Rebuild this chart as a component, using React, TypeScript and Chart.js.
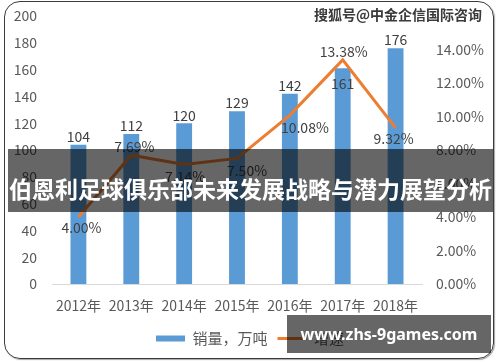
import React, { useEffect, useRef } from "react";
import { Chart, registerables } from "chart.js";

Chart.register(...registerables);

const FONT = "'Noto Sans CJK SC', 'Noto Sans', sans-serif";

const categories = ["2012年", "2013年", "2014年", "2015年", "2016年", "2017年", "2018年"];
const salesValues = [104, 112, 120, 129, 142, 161, 176];
const growthValues = [4.0, 7.69, 7.14, 7.5, 10.08, 13.38, 9.32];
const seriesNames = ["销量，万吨", "增速"];
const leftAxisMax = 200;
const leftAxisStep = 20;
const rightAxisMax = 16;
const rightAxisStep = 2;

const titleText = "伯恩利足球俱乐部未来发展战略与潜力展望分析";
const topWatermark = "搜狐号@中金企信国际咨询";
const bottomWatermark = "www.zhs-9games.com";

// label placement styling (not data)
const barLabelInside = [false, false, false, false, false, true, false];
const lineLabelOffsets: [number, number][] = [
  [3, 11],
  [3, -9],
  [1, 12],
  [10, 12],
  [15, 13],
  [1, -8],
  [-2, 11],
];

const BAR_COLOR = "#5B9BD5";
const LINE_COLOR = "#ED7D31";

const labelPlugin = {
  id: "valueLabels",
  afterDatasetsDraw(chart: any) {
    const ctx = chart.ctx;
    ctx.save();
    ctx.font = `14px ${FONT}`;
    ctx.fillStyle = "#404040";
    ctx.textAlign = "center";
    ctx.textBaseline = "middle";
    const barMeta = chart.getDatasetMeta(0);
    barMeta.data.forEach((el: any, i: number) => {
      const y = barLabelInside[i] ? el.y + 15 : el.y - 8;
      ctx.fillText(String(salesValues[i]), el.x, y);
    });
    const lineMeta = chart.getDatasetMeta(1);
    lineMeta.data.forEach((el: any, i: number) => {
      const [dx, dy] = lineLabelOffsets[i];
      ctx.fillText(growthValues[i].toFixed(2) + "%", el.x + dx, el.y + dy);
    });
    ctx.restore();
  },
};

export default function App() {
  const canvasRef = useRef<HTMLCanvasElement | null>(null);

  useEffect(() => {
    if (!canvasRef.current) return;
    const chart = new Chart(canvasRef.current, {
      type: "bar",
      data: {
        labels: categories,
        datasets: [
          {
            type: "bar",
            label: seriesNames[0],
            data: salesValues,
            backgroundColor: BAR_COLOR,
            borderWidth: 0,
            barPercentage: 0.3,
            categoryPercentage: 1,
            yAxisID: "y",
            order: 1,
          },
          {
            type: "line",
            label: seriesNames[1],
            data: growthValues,
            borderColor: LINE_COLOR,
            backgroundColor: LINE_COLOR,
            borderWidth: 3,
            pointRadius: 0,
            tension: 0,
            yAxisID: "y1",
            order: 0,
          } as any,
        ],
      },
      options: {
        responsive: false,
        animation: false,
        events: [],
        layout: { padding: { top: 16, bottom: 6, left: 0, right: 0 } },
        plugins: {
          tooltip: { enabled: false },
          legend: {
            position: "bottom",
            labels: {
              font: { size: 15, family: FONT },
              color: "#595959",
              usePointStyle: true,
              pointStyleWidth: 29,
              padding: 10,
              generateLabels: (chart: any) =>
                chart.data.datasets.map((ds: any, i: number) => ({
                  text: ds.label,
                  fillStyle: i === 0 ? BAR_COLOR : LINE_COLOR,
                  strokeStyle: i === 0 ? BAR_COLOR : LINE_COLOR,
                  lineWidth: i === 0 ? 6 : 3,
                  pointStyle: "line",
                  hidden: false,
                  datasetIndex: i,
                  fontColor: "#595959",
                })),
            },
          },
        },
        scales: {
          x: {
            grid: { display: false, drawTicks: false },
            border: { display: true, color: "#D9D9D9", width: 1 },
            ticks: {
              font: { size: 14, family: FONT },
              color: "#595959",
              padding: 13,
              maxRotation: 0,
            },
            afterFit: (scale: any) => {
              scale.height = 37;
            },
          },
          y: {
            position: "left",
            min: 0,
            max: leftAxisMax,
            grid: { display: false, drawTicks: false },
            border: { display: false },
            ticks: {
              stepSize: leftAxisStep,
              font: { size: 14, family: FONT },
              color: "#595959",
              padding: 15,
            },
            afterFit: (scale: any) => {
              scale.width = 52;
              scale.paddingTop = 8;
              scale.paddingBottom = 8;
            },
          },
          y1: {
            position: "right",
            min: 0,
            max: rightAxisMax,
            grid: { display: false, drawTicks: false },
            border: { display: false },
            ticks: {
              stepSize: rightAxisStep,
              font: { size: 14, family: FONT },
              color: "#595959",
              padding: 14,
              callback: (v: any) => (Number(v) >= rightAxisMax ? "" : Number(v).toFixed(2) + "%"),
            },
            afterFit: (scale: any) => {
              scale.width = 78;
              scale.paddingTop = 8;
              scale.paddingBottom = 8;
            },
          },
        },
      },
      plugins: [labelPlugin],
    });
    return () => chart.destroy();
  }, []);

  return (
    <div
      style={{
        position: "fixed",
        left: 0,
        top: 0,
        width: 500,
        height: 362,
        background: "#fff",
        overflow: "hidden",
        fontFamily: FONT,
      }}
    >
      <div
        style={{
          position: "absolute",
          left: 4,
          top: 1,
          width: 490,
          height: 358,
          boxSizing: "border-box",
          border: "1.5px solid #3a3a3a",
          borderRadius: 16,
          boxShadow: "1px 1px 1px rgba(0,0,0,0.35)",
        }}
      />
      <canvas
        ref={canvasRef}
        width={500}
        height={362}
        style={{ position: "absolute", left: 0, top: 0, width: 500, height: 362 }}
      />
      <div
        style={{
          position: "absolute",
          left: 8,
          top: 149,
          width: 485,
          height: 63,
          boxSizing: "border-box",
          paddingTop: 14,
          background: "rgba(0,0,0,0.6)",
          color: "#fff",
          fontWeight: 700,
          fontSize: 23,
          display: "flex",
          alignItems: "center",
          justifyContent: "center",
          whiteSpace: "nowrap",
        }}
      >
        {titleText}
      </div>
      <div
        style={{
          position: "absolute",
          right: 18,
          top: 5,
          fontSize: 14,
          fontWeight: 700,
          color: "#3a3a3a",
          whiteSpace: "nowrap",
          lineHeight: "18px",
          textShadow: "0 0 2px #fff, 0 0 2px #fff, 0 0 3px #fff",
        }}
      >
        {topWatermark}
      </div>
      <div
        style={{
          position: "absolute",
          left: 287,
          top: 315,
          width: 204,
          height: 38,
          background: "rgba(0,0,0,0.6)",
          color: "#fff",
          fontWeight: 700,
          fontSize: 16,
          fontFamily: "'Noto Sans', 'DejaVu Sans', sans-serif",
          display: "flex",
          alignItems: "center",
          justifyContent: "center",
          whiteSpace: "nowrap",
        }}
      >
        {bottomWatermark}
      </div>
    </div>
  );
}
